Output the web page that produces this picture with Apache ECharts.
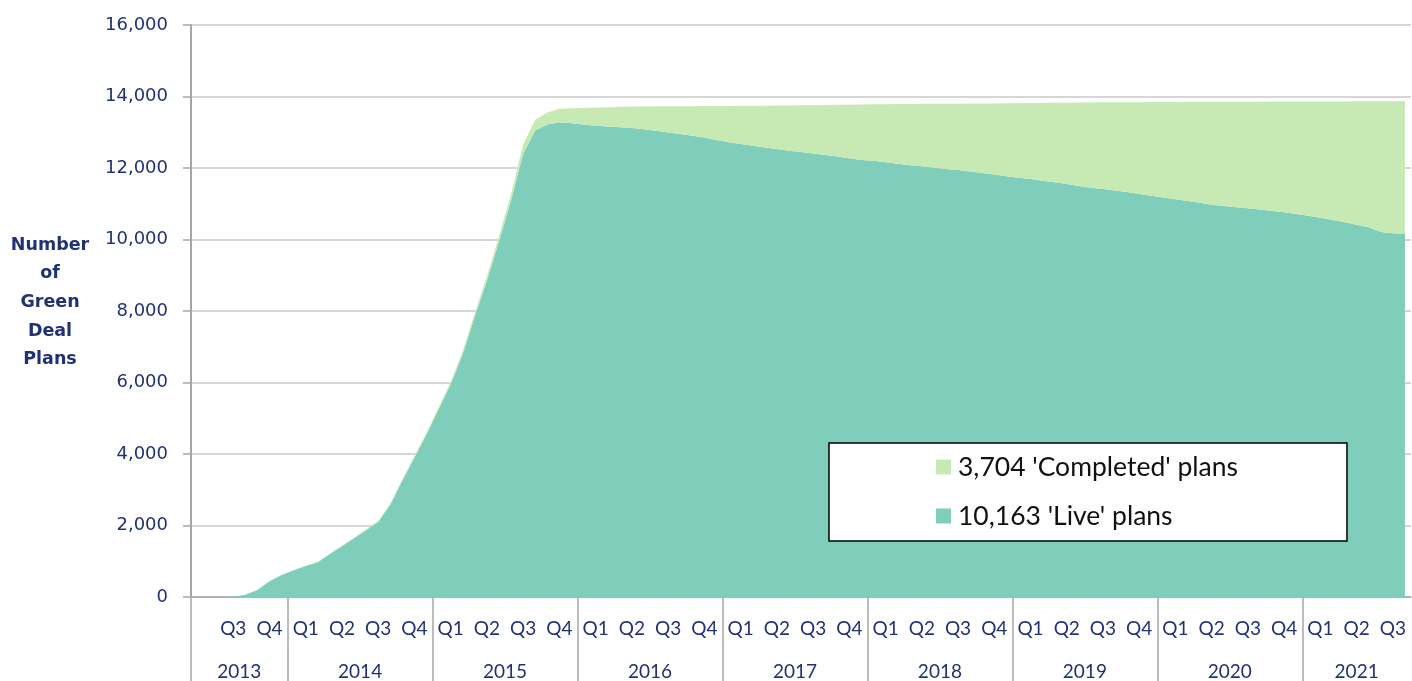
<!DOCTYPE html>
<html>
<head>
<meta charset="utf-8">
<script src="https://cdn.jsdelivr.net/npm/echarts@6/dist/echarts.min.js"></script>
<style>
html,body{margin:0;padding:0;background:#ffffff;}
#chart{width:1412px;height:681px;}
</style>
</head>
<body>
<div id="chart"></div>
<script>
// Monthly categories, May 2013 – Sep 2021
const months = [
  '2013-05','2013-06','2013-07','2013-08','2013-09','2013-10','2013-11','2013-12',
  '2014-01','2014-02','2014-03','2014-04','2014-05','2014-06','2014-07','2014-08','2014-09','2014-10','2014-11','2014-12',
  '2015-01','2015-02','2015-03','2015-04','2015-05','2015-06','2015-07','2015-08','2015-09','2015-10','2015-11','2015-12',
  '2016-01','2016-02','2016-03','2016-04','2016-05','2016-06','2016-07','2016-08','2016-09','2016-10','2016-11','2016-12',
  '2017-01','2017-02','2017-03','2017-04','2017-05','2017-06','2017-07','2017-08','2017-09','2017-10','2017-11','2017-12',
  '2018-01','2018-02','2018-03','2018-04','2018-05','2018-06','2018-07','2018-08','2018-09','2018-10','2018-11','2018-12',
  '2019-01','2019-02','2019-03','2019-04','2019-05','2019-06','2019-07','2019-08','2019-09','2019-10','2019-11','2019-12',
  '2020-01','2020-02','2020-03','2020-04','2020-05','2020-06','2020-07','2020-08','2020-09','2020-10','2020-11','2020-12',
  '2021-01','2021-02','2021-03','2021-04','2021-05','2021-06','2021-07','2021-08','2021-09'
];

// 'Live' plans (bottom of stack)
const liveValues = [
  0, 0, 0, 10, 60, 195, 440, 615,
  750, 870, 975, 1200, 1420, 1640, 1870, 2100, 2580, 3260, 3900, 4550,
  5250, 5950, 6800, 7850, 8850, 9950, 11100, 12400, 13050, 13220, 13280, 13250,
  13215, 13185, 13160, 13140, 13120, 13085, 13040, 12995, 12950, 12900, 12855, 12785,
  12720, 12670, 12620, 12570, 12530, 12485, 12445, 12405, 12365, 12320, 12270, 12225,
  12200, 12160, 12120, 12075, 12050, 12010, 11975, 11945, 11900, 11860, 11815, 11770,
  11730, 11695, 11645, 11600, 11550, 11500, 11450, 11410, 11370, 11330, 11275, 11225,
  11175, 11125, 11075, 11030, 10975, 10940, 10905, 10875, 10840, 10800, 10760, 10715,
  10665, 10605, 10545, 10480, 10415, 10340, 10210, 10175, 10163
];

// 'Completed' plans (stacked on top)
const completedValues = [
  0, 0, 0, 0, 0, 0, 2, 5,
  8, 10, 12, 15, 18, 22, 26, 30, 35, 40, 45, 50,
  60, 70, 80, 100, 120, 150, 180, 260, 300, 330, 380, 420,
  465, 505, 540, 575, 600, 637, 684, 731, 778, 830, 877, 949,
  1016, 1068, 1120, 1172, 1215, 1263, 1307, 1352, 1397, 1447, 1502, 1552,
  1582, 1626, 1670, 1718, 1745, 1787, 1824, 1855, 1902, 1944, 1991, 2038,
  2080, 2120, 2175, 2225, 2278, 2331, 2384, 2426, 2468, 2510, 2567, 2619,
  2671, 2723, 2775, 2821, 2877, 2913, 2949, 2980, 3016, 3057, 3098, 3144,
  3195, 3256, 3317, 3383, 3449, 3525, 3656, 3691, 3704
];

const seriesNames = ["3,704 'Completed' plans", "10,163 'Live' plans"];
const yAxisTitle = 'Number\nof\nGreen\nDeal\nPlans';
const yMin = 0, yMax = 16000, yInterval = 2000;

const navy = '#1F3274';
const gray = '#A6A6A6';

// month boundaries (start of each month, plus the end of the last one) for the year row
const boundaries = months.concat(['end']);

// quarter label at middle month of each complete quarter
function quarterShown(i) {
  const m = +months[i].slice(5);
  return m % 3 === 2 && i > 0 && i < months.length - 1;
}
// year label at the middle of each year's span (in boundary units)
const yearSpan = {};
months.forEach((v, i) => {
  const y = v.slice(0, 4);
  if (!yearSpan[y]) yearSpan[y] = [i, i];
  yearSpan[y][1] = i;
});
const yearLabelAt = {};
Object.keys(yearSpan).forEach(y => {
  const mid = (yearSpan[y][0] + yearSpan[y][1] + 1) / 2;
  yearLabelAt[Math.floor(mid)] = { year: y, half: mid % 1 !== 0 };
});

const chart = echarts.init(document.getElementById('chart'), null, { renderer: 'canvas' });
const bandW = 1220 / months.length;

chart.setOption({
  animation: false,
  backgroundColor: '#ffffff',
  grid: { left: 191, right: 1, top: 25, bottom: 83, containLabel: false },
  graphic: [
    {
      type: 'text',
      x: 50,
      y: 302.5,
      silent: true,
      style: {
        text: yAxisTitle,
        align: 'center',
        verticalAlign: 'middle',
        fontFamily: 'DejaVu Sans',
        fontWeight: 'bold',
        fontSize: 17.5,
        lineHeight: 28.7,
        fill: navy
      }
    }
  ],
  legend: {
    data: seriesNames,
    orient: 'vertical',
    left: 829,
    top: 443,
    icon: 'rect',
    itemWidth: 15,
    itemHeight: 15,
    itemGap: 21,
    padding: [10, 109, 11, 107],
    backgroundColor: '#ffffff',
    borderColor: '#000000',
    borderWidth: 1.5,
    borderRadius: 0,
    selectedMode: false,
    textStyle: { fontFamily: 'Lato', fontSize: 26.5, color: '#111111', lineHeight: 28, padding: [0, 0, 0, 2] }
  },
  xAxis: [
    {
      type: 'category',
      data: months,
      boundaryGap: true,
      position: 'bottom',
      axisLine: { show: true, lineStyle: { color: gray, width: 1.5 } },
      axisTick: { show: false },
      axisLabel: {
        interval: (i) => quarterShown(i),
        formatter: (v) => 'Q' + Math.ceil(+v.slice(5) / 3),
        fontFamily: 'Lato', fontSize: 19, color: navy, margin: 22
      },
      splitLine: { show: false }
    },
    {
      type: 'category',
      data: boundaries,
      boundaryGap: false,
      position: 'bottom',
      axisLine: { show: false },
      axisTick: {
        show: true,
        interval: (i, v) => i === 0 || v.slice(5) === '01',
        length: 84,
        lineStyle: { color: gray, width: 1.5 }
      },
      axisLabel: {
        interval: (i) => !!yearLabelAt[i],
        formatter: (v, i) => {
          const e = yearLabelAt[i];
          if (!e) return '';
          return e.half ? '{s|' + e.year + '}' : '{n|' + e.year + '}';
        },
        rich: {
          s: { fontFamily: 'Lato', fontSize: 19, color: navy, padding: [0, 0, 0, bandW] },
          n: { fontFamily: 'Lato', fontSize: 19, color: navy }
        },
        fontFamily: 'Lato', fontSize: 19, color: navy, margin: 65
      },
      splitLine: { show: false }
    }
  ],
  yAxis: {
    type: 'value',
    min: yMin,
    max: yMax,
    interval: yInterval,
    axisLine: { show: true, lineStyle: { color: gray, width: 2 } },
    axisTick: { show: true, length: 8, lineStyle: { color: gray, width: 1.5 } },
    axisLabel: { fontFamily: 'DejaVu Sans', fontSize: 18, color: navy, margin: 23 },
    splitLine: { show: true, lineStyle: { color: '#D6D6D6', width: 2 } }
  },
  series: [
    {
      name: seriesNames[1],
      type: 'line',
      stack: 'plans',
      data: liveValues,
      symbol: 'none',
      smooth: false,
      lineStyle: { width: 0, opacity: 0 },
      itemStyle: { color: '#7FCDBB' },
      areaStyle: { color: '#7FCDBB', opacity: 1 },
      silent: true
    },
    {
      name: seriesNames[0],
      type: 'line',
      stack: 'plans',
      data: completedValues,
      symbol: 'none',
      smooth: false,
      lineStyle: { width: 0, opacity: 0 },
      itemStyle: { color: '#C7E9B4' },
      areaStyle: { color: '#C7E9B4', opacity: 1 },
      silent: true
    }
  ]
});
</script>
</body>
</html>
